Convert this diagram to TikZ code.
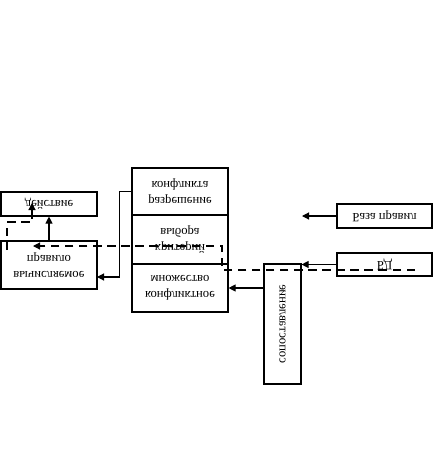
\documentclass[tikz,border=0pt]{standalone}
\usepackage{fontspec}
\setmainfont{Liberation Serif}
\usetikzlibrary{arrows.meta}

\begin{document}
\begin{tikzpicture}[
  x=0.025cm,y=-0.025cm,
  box/.style={draw,line width=0.8pt,inner sep=0pt,minimum width=2.4cm},
  txt/.style={yscale=-1,align=center,inner sep=0pt,font=\fontsize{9}{11.5}\selectfont},
  flow/.style={-{Triangle[length=5pt,width=5pt]},line width=0.8pt},
  fb/.style={flow,dash pattern=on 6pt off 4pt}
]
  \useasboundingbox (0,0) rectangle (434,469);

  % left column
  \node[box,minimum height=0.6cm] (act) at (49,204) {};
  \node[txt] at (act) {действие};
  \node[box,minimum height=1.2cm] (rule) at (49,265) {};
  \node[txt] at (rule) {вычисляемое\\правило};

  % middle column
  \node[box,minimum height=1.175cm] (res) at (180,191.5) {};
  \node[txt] at (res) {разрешение\\конфликта};
  \node[box,minimum height=1.225cm] (crit) at (180,239.5) {};
  \node[txt] at (crit) {критерий\\выбора};
  \node[box,minimum height=1.2cm] (conf) at (180,288) {};
  \node[txt] at (conf) {конфликтное\\множество};

  % right side
  \node[box,minimum width=2.375cm,minimum height=0.6cm] (kb) at (384.5,216) {};
  \node[txt] at (kb) {База правил};
  \node[box,minimum width=2.375cm,minimum height=0.575cm] (db) at (384.5,264.5) {};
  \node[txt] at (db) {БД};
  \node[box,minimum width=0.925cm,minimum height=3cm] (match) at (282.5,324) {};
  \node[txt,rotate=-90] at (match) {сопоставление};

  \coordinate (kbend) at (302,216);
  \coordinate (ruleIn) at (97,277);
  \coordinate (dA) at (7,250);
  \coordinate (dB) at (32,203);
  \coordinate (dC) at (415,270);
  \coordinate (dD) at (33,246);

  \draw[flow] (kb.west) -- (kbend);
  \draw[flow] (db.west) -- (db.west -| match.east);
  \draw[flow] (conf.east -| match.west) -- (conf.east);
  \draw[flow] (res.west) -- ++(-12,0) |- (ruleIn);
  \draw[flow] (rule.north) -- (act.south);

  % feedback
  \draw[fb] (dA) -- (7,222) -| (dB);
  \draw[fb] (dC) -- (222,270) |- (dD);
\end{tikzpicture}
\end{document}
